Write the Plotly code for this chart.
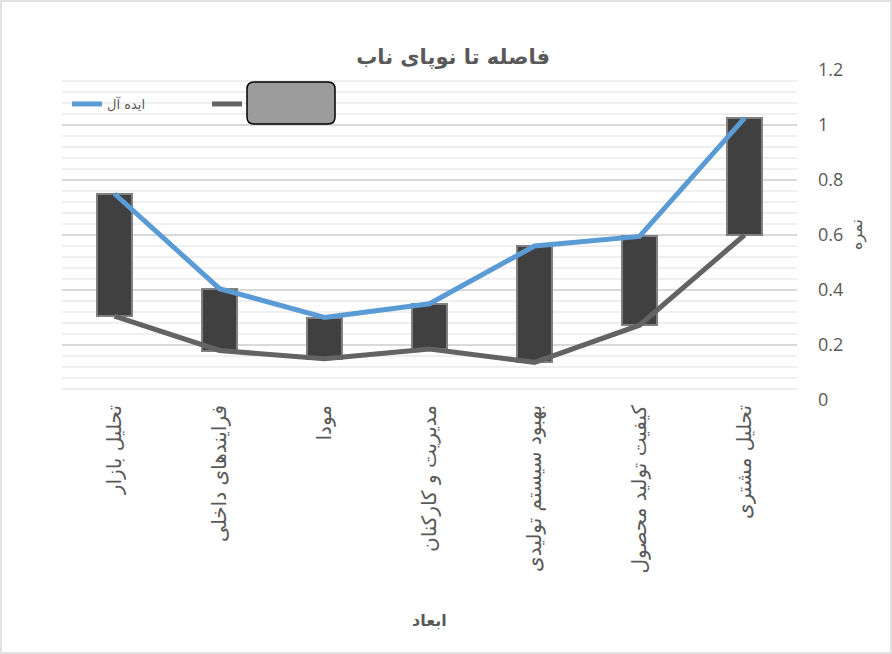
import plotly.graph_objects as go

# Data
categories = ["تحلیل بازار", "فرایندهای داخلی", "مودا", "مدیریت و کارکنان",
              "بهبود سیستم تولیدی", "کیفیت تولید محصول", "تحلیل مشتری"]
ideal = [0.75, 0.405, 0.30, 0.35, 0.56, 0.595, 1.025]
actual = [0.305, 0.18, 0.15, 0.185, 0.137, 0.272, 0.60]

gap = [i - a for i, a in zip(ideal, actual)]

W, H = 892, 654
ml, mr, mt, mb = 62, 95, 70, 254
pw, ph = W - ml - mr, H - mt - mb

font = "DejaVu Sans"
txt = "#595959"

fig = go.Figure()

# ideal line
fig.add_trace(go.Scatter(
    x=categories, y=ideal, mode="lines", name="ایده آل",
    line=dict(color="#5b9bd5", width=5)
))

# actual line (own legend so it sits next to the bar key)
fig.add_trace(go.Scatter(
    x=categories, y=actual, mode="lines", name=" ", legend="legend2",
    line=dict(color="#636363", width=5)
))

# up-down bars between the two series
fig.add_trace(go.Bar(
    x=categories, y=gap, base=actual, width=0.33, name=" ",
    marker=dict(color="#404040", line=dict(color="#808080", width=2)),
    showlegend=False
))

# border around the whole chart
fig.add_shape(type="rect", xref="paper", yref="paper",
              x0=-(ml - 1) / pw, x1=(W - ml - 1) / pw,
              y0=-(mb - 1) / ph, y1=(H - mb - 1) / ph,
              line=dict(color="#d9d9d9", width=1.5), layer="below")


# legend key for the up-down bars: rounded box (pixel coords -> paper)
def px(x):
    return (x - ml) / pw


def py(y):
    return (H - mb - y) / ph


x0, x1, y0, y1, r = 247, 335, 82, 124, 7
path = (f"M{px(x0 + r)},{py(y0)} L{px(x1 - r)},{py(y0)} "
        f"Q{px(x1)},{py(y0)} {px(x1)},{py(y0 + r)} "
        f"L{px(x1)},{py(y1 - r)} Q{px(x1)},{py(y1)} {px(x1 - r)},{py(y1)} "
        f"L{px(x0 + r)},{py(y1)} Q{px(x0)},{py(y1)} {px(x0)},{py(y1 - r)} "
        f"L{px(x0)},{py(y0 + r)} Q{px(x0)},{py(y0)} {px(x0 + r)},{py(y0)} Z")
fig.add_shape(type="path", xref="paper", yref="paper", path=path,
              fillcolor="#9c9c9c", line=dict(color="#000000", width=1.5))

leg_y = py(89)
fig.update_layout(
    width=W, height=H,
    margin=dict(l=ml, r=mr, t=mt, b=mb),
    paper_bgcolor="white", plot_bgcolor="white",
    font=dict(family=font, color=txt),
    title=dict(text="<b>فاصله تا نوپای ناب</b>", x=0.508, xref="container",
               y=(H - 57) / H, yanchor="middle",
               font=dict(size=21, color=txt)),
    showlegend=True,
    legend=dict(orientation="h", x=px(67), xanchor="left",
                y=leg_y, yanchor="top",
                bgcolor="rgba(0,0,0,0)", font=dict(size=13, color=txt)),
    legend2=dict(orientation="h", x=px(207), xanchor="left",
                 y=leg_y, yanchor="top",
                 bgcolor="rgba(0,0,0,0)", font=dict(size=13, color=txt)),
    xaxis=dict(
        type="category", tickangle=-90, showgrid=False, showline=False,
        ticks="", tickfont=dict(size=20, color=txt),
    ),
    yaxis=dict(
        side="right", range=[0, 1.2], dtick=0.2, showline=False,
        gridcolor="#d9d9d9", gridwidth=1.5, zeroline=False,
        tickfont=dict(size=18, color=txt, family="Open Sans"),
        ticklabelstandoff=20,
        minor=dict(dtick=0.04, showgrid=True, gridcolor="#efefef",
                   gridwidth=1.5),
    ),
    bargap=0,
    annotations=[
        dict(text="نمره", xref="paper", yref="paper",
             x=px(869), y=0.5, textangle=-90,
             showarrow=False, font=dict(size=16, color=txt)),
        dict(text="<b>ابعاد</b>", xref="paper", yref="paper",
             x=0.5, y=py(620), yanchor="middle",
             showarrow=False, font=dict(size=16, color=txt)),
    ],
)

fig.write_html("out.html", config={"displayModeBar": False},
               post_script="document.body.style.margin='0';")
